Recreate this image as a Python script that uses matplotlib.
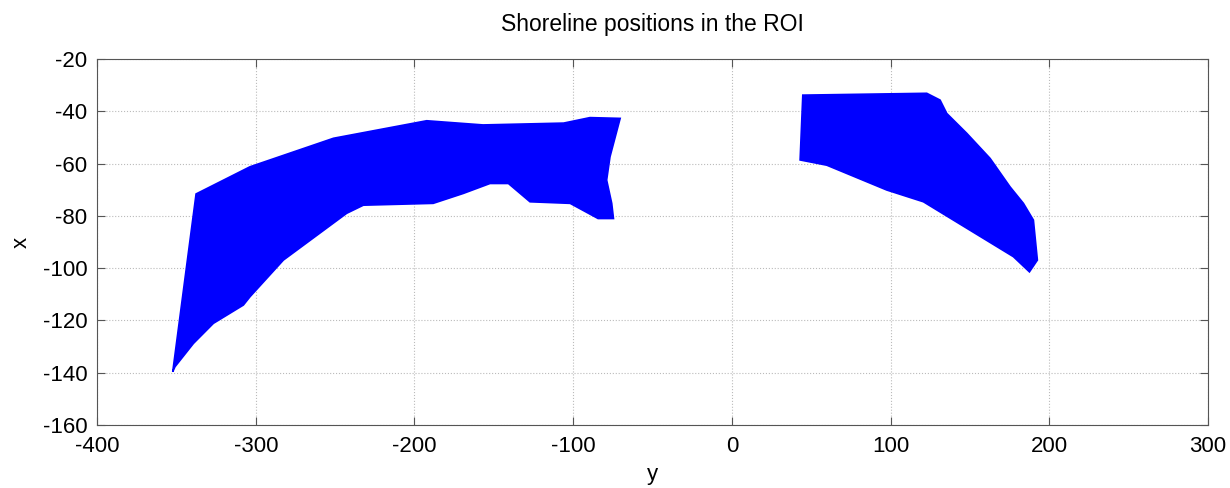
import matplotlib.pyplot as plt

# outline of the western shoreline bundle (y, x)
west_y = [-352.3, -337.6, -303.6, -251.0, -192.3, -156.8, -106.0, -89.4, -70.4,
          -76.8, -78.9, -75.7, -74.6, -84.3, -101.9, -127.2, -140.8, -152.4,
          -169.2, -188.2, -232.2, -242.7, -282.6, -303.6, -307.8, -326.7,
          -339.3, -350.9]
west_x = [-139.6, -71.6, -61.2, -50.3, -43.6, -45.2, -44.5, -42.4, -42.7,
          -57.4, -66.3, -75.2, -81.0, -81.0, -75.2, -74.6, -67.6, -67.6,
          -71.4, -75.2, -75.9, -79.0, -96.9, -110.9, -114.1, -121.1,
          -128.8, -137.7]

# outline of the eastern shoreline bundle (y, x)
east_y = [44.7, 122.8, 131.2, 135.4, 148.0, 162.7, 175.3, 183.7, 190.0,
          192.5, 187.5, 177.4, 120.7, 97.6, 59.8, 43.0]
east_x = [-33.8, -33.1, -35.7, -40.8, -48.4, -58.0, -68.9, -75.2, -81.6,
          -96.9, -101.4, -95.6, -74.6, -70.1, -60.6, -58.6]

xticks = [-400, -300, -200, -100, 0, 100, 200, 300]
yticks = [-160, -140, -120, -100, -80, -60, -40, -20]

plt.rcParams['font.family'] = ['Liberation Sans', 'DejaVu Sans']
plt.rcParams['axes.unicode_minus'] = False

fig = plt.figure(figsize=(12.3, 4.88), dpi=100)
ax = fig.add_axes([0.0789, 0.129, 0.9032, 0.750])

for ys, xs in [(west_y, west_x), (east_y, east_x)]:
    ax.fill(ys, xs, facecolor='#0000ff', edgecolor='#0000ff', linewidth=1.2)

ax.set_xlim(-400, 300)
ax.set_ylim(-160, -20)
ax.set_xticks(xticks)
ax.set_yticks(yticks)
ax.tick_params(direction='in', top=True, right=True, length=6,
               labelsize=16, color='#555555')
ax.tick_params(axis='x', pad=8)
ax.tick_params(axis='y', pad=7)
ax.grid(True, linestyle=':', color='#bbbbbb', linewidth=0.8)
ax.set_axisbelow(True)
for s in ax.spines.values():
    s.set_color('#555555')

ax.set_xlabel('y', fontsize=16, labelpad=5)
ax.set_ylabel('x', fontsize=16, labelpad=8)
ax.set_title('Shoreline positions in the ROI', fontsize=16.5, pad=20)

fig.savefig('out.png', dpi=100)
